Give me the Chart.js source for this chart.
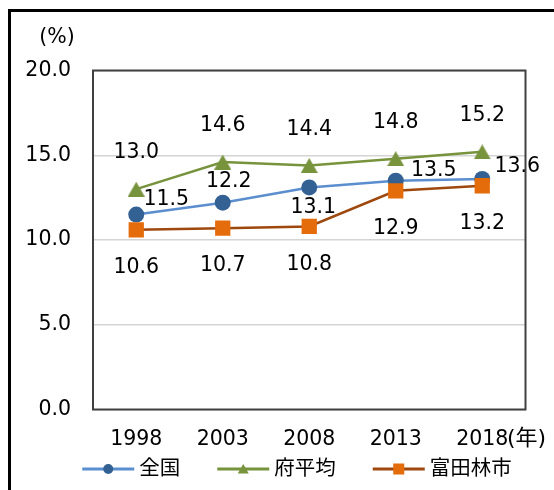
<!DOCTYPE html>
<html lang="ja">
<head>
<meta charset="UTF-8">
<meta name="viewport" content="width=device-width, initial-scale=1.0">
<title>グラフ</title>
<script src="https://cdn.jsdelivr.net/npm/chart.js"></script>
<style>
  body { margin: 0; background: #fff; overflow: hidden; }
  .moldura {
    position: absolute; left: 8px; top: 9px; width: 700px; height: 700px;
    border-left: 3px solid #000; border-top: 3px solid #000;
  }
  .area { position: absolute; left: 0; top: 0; width: 554px; height: 490px; }
</style>
</head>
<body>
<div class="moldura"></div>
<div class="area"><canvas id="grafico" width="554" height="490"></canvas></div>

<script>
  // dados
  const anos = ['1998', '2003', '2008', '2013', '2018'];
  const zenkoku = [11.5, 12.2, 13.1, 13.5, 13.6];
  const fuHeikin = [13.0, 14.6, 14.4, 14.8, 15.2];
  const tondabayashi = [10.6, 10.7, 10.8, 12.9, 13.2];
  const yMin = 0, yMax = 20, yPasso = 5;

  // deslocamento dos rótulos (px, relativo ao ponto)
  const rotZenkoku = [[30, -15], [6, -21], [4, 20], [38, -10], [35, -12]];
  const rotFu = [[0, -36], [0, -36], [0, -36], [0, -36], [0, -36]];
  const rotTonda = [[0, 38], [0, 38], [0, 38], [0, 38], [0, 38]];

  const FONTE = '20.5px "DejaVu Sans", "Noto Sans CJK JP", sans-serif';

  function triangulo(w, h, cor) {
    const c = document.createElement('canvas');
    c.width = w; c.height = h;
    const g = c.getContext('2d');
    g.fillStyle = cor;
    g.beginPath();
    g.moveTo(w / 2, 0);
    g.lineTo(w, h);
    g.lineTo(0, h);
    g.closePath();
    g.fill();
    return c;
  }

  const series = [
    { nome: '全国', dados: zenkoku, linha: '#5b8ecf', marca: '#336194', estilo: 'circle', raio: 8, rot: rotZenkoku, ordem: 2 },
    { nome: '府平均', dados: fuHeikin, linha: '#77933c', marca: '#77933c', estilo: triangulo(17, 15, '#77933c'), raio: 8, rot: rotFu, ordem: 1 },
    { nome: '富田林市', dados: tondabayashi, linha: '#9e480e', marca: '#e46c0a', estilo: 'rect', raio: 10.8, rot: rotTonda, ordem: 0 }
  ];

  const pluginExtras = {
    id: 'extras',
    beforeDatasetsDraw(chart) {
      const { ctx, chartArea: a } = chart;
      ctx.save();
      ctx.strokeStyle = '#404040';
      ctx.lineWidth = 2;
      ctx.strokeRect(a.left, a.top, a.right - a.left, a.bottom - a.top);
      ctx.restore();
    },
    afterDatasetsDraw(chart) {
      const { ctx } = chart;
      ctx.save();
      ctx.font = FONTE;
      ctx.fillStyle = '#000';
      ctx.textAlign = 'center';
      ctx.textBaseline = 'middle';
      series.forEach((s, i) => {
        const meta = chart.getDatasetMeta(i);
        meta.data.forEach((p, j) => {
          const off = s.rot[j];
          ctx.fillText(s.dados[j].toFixed(1), p.x + off[0], p.y + off[1]);
        });
      });
      ctx.restore();
    },
    afterDraw(chart) {
      const { ctx } = chart;
      ctx.save();
      ctx.font = FONTE;
      ctx.fillStyle = '#000';
      ctx.textBaseline = 'middle';
      // unidades
      ctx.textAlign = 'center';
      ctx.fillText('(%)', 57, 38);
      ctx.textAlign = 'left';
      ctx.font = '22px "DejaVu Sans", "Noto Sans CJK JP", sans-serif';
      ctx.fillText('(年)', 507, 439);
      ctx.font = FONTE;

      // legenda
      const yL = 469;
      const larg = series.map(s => 52 + 5 + ctx.measureText(s.nome).width);
      const total = larg.reduce((a, b) => a + b, 0) + 37 * (series.length - 1);
      let x = 297 - total / 2;
      series.forEach((s, i) => {
        ctx.strokeStyle = s.linha;
        ctx.lineWidth = 3;
        ctx.beginPath();
        ctx.moveTo(x, yL);
        ctx.lineTo(x + 52, yL);
        ctx.stroke();
        ctx.fillStyle = s.marca;
        const cx = x + 26;
        if (s.estilo === 'circle') {
          ctx.beginPath();
          ctx.arc(cx, yL, 5, 0, Math.PI * 2);
          ctx.fill();
        } else if (s.estilo === 'rect') {
          ctx.fillRect(cx - 5.5, yL - 5.5, 11, 11);
        } else {
          ctx.beginPath();
          ctx.moveTo(cx, yL - 5);
          ctx.lineTo(cx + 5.5, yL + 4.5);
          ctx.lineTo(cx - 5.5, yL + 4.5);
          ctx.closePath();
          ctx.fill();
        }
        ctx.fillStyle = '#000';
        ctx.fillText(s.nome, x + 57, yL + 1);
        x += larg[i] + 37;
      });
      ctx.restore();
    }
  };

  new Chart(document.getElementById('grafico'), {
    type: 'line',
    data: {
      labels: anos,
      datasets: series.map(s => ({
        label: s.nome,
        data: s.dados,
        borderColor: s.linha,
        borderWidth: 2.5,
        backgroundColor: s.marca,
        pointBackgroundColor: s.marca,
        pointBorderColor: s.marca,
        pointBorderWidth: 0,
        pointStyle: s.estilo,
        pointRadius: s.raio,
        pointHoverRadius: s.raio,
        tension: 0,
        fill: false,
        order: s.ordem
      }))
    },
    options: {
      responsive: false,
      animation: false,
      devicePixelRatio: 1,
      layout: { padding: { top: 70.5, right: 28.5, bottom: 30.5, left: 0 } },
      plugins: {
        legend: { display: false },
        tooltip: { enabled: false }
      },
      scales: {
        x: {
          offset: true,
          grid: { display: false, drawTicks: false },
          border: { display: false },
          ticks: { color: '#000', font: { family: '"DejaVu Sans", sans-serif', size: 20.5 }, padding: 18, maxRotation: 0 },
          afterFit: (s) => { s.height = 50; }
        },
        y: {
          min: yMin,
          max: yMax,
          grid: { color: '#d4d4d4', lineWidth: 1.5, drawTicks: false },
          border: { display: false },
          ticks: {
            stepSize: yPasso,
            color: '#000',
            font: { family: '"DejaVu Sans", sans-serif', size: 20.5 },
            padding: 22,
            callback: (v) => v.toFixed(1)
          },
          afterFit: (s) => { s.width = 93; }
        }
      }
    },
    plugins: [pluginExtras]
  });
</script>
</body>
</html>
